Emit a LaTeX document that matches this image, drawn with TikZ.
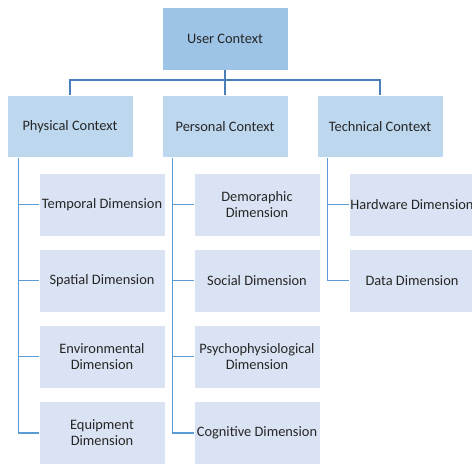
\documentclass[tikz,border=0pt]{standalone}
\usepackage{fontspec}
\setmainfont{Carlito}
\usepackage{tikz}
\definecolor{topblue}{HTML}{9DC3E6}
\definecolor{midblue}{HTML}{BDD7EE}
\definecolor{lowblue}{HTML}{DAE3F3}
\definecolor{linkdark}{HTML}{4A7EBB}
\definecolor{linklight}{HTML}{5B9BD5}
\tikzstyle{root} = [rectangle, sharp corners, draw=white, line width=0.8pt,
                    fill=topblue, align=center, text=black!85,
                    minimum width=126pt, minimum height=63pt]
\tikzstyle{context} = [rectangle, sharp corners, draw=white, line width=0.8pt,
                    fill=midblue, align=center, text=black!85,
                    minimum width=126pt, minimum height=62pt]
\tikzstyle{dimension} = [rectangle, sharp corners, draw=white, line width=0.8pt,
                    fill=lowblue, align=center, text=black!85, inner xsep=1pt,
                    minimum width=126pt, minimum height=63pt]
\tikzstyle{treelink} = [draw=linkdark, line width=1.8pt]
\tikzstyle{branch} = [draw=linklight, line width=1.6pt]

\begin{document}
\begin{tikzpicture}[x=1pt, y=-1pt, font=\fontsize{14.4}{16}\selectfont]
\useasboundingbox (0,0) rectangle (472,464);
\clip (0,0) rectangle (472,464);

%Root
\node[root] at (225,38.5) (user){User Context};

%Contexts
\node[context] at (70,126.5) (phys){Physical Context};
\node[context] at (225,126.5) (pers){Personal Context};
\node[context] at (380,126.5) (tech){Technical Context};

%Tree links
\draw[treelink] (user.south) -- (pers.north);
\draw[treelink] (phys.north) |- ++(0,-15) -| (tech.north);

%Physical dimensions
\node[dimension] at (102,204.5) (temp){Temporal Dimension};
\node[dimension] at (102,280.5) (spat){Spatial Dimension};
\node[dimension] at (102,356.5) (env){Environmental\\Dimension};
\node[dimension] at (102,433) (equip){Equipment\\Dimension};

%Personal dimensions
\node[dimension] at (257,204.5) (demo){Demoraphic\\Dimension};
\node[dimension] at (257,280.5) (soc){Social Dimension};
\node[dimension] at (257,356.5) (psy){Psychophysiological\\Dimension};
\node[dimension] at (257,433) (cog){Cognitive Dimension};

%Technical dimensions
\node[dimension] at (412,204.5) (hard){Hardware Dimension};
\node[dimension] at (412,280.5) (data){Data Dimension};

% Branches
\draw[branch] ([xshift=12pt]phys.south west) |- (equip.west);
\foreach \n in {temp,spat,env}
  \draw[branch] ([xshift=12pt]phys.south west |- \n.west) -- (\n.west);
\draw[branch] ([xshift=11pt]pers.south west) |- (cog.west);
\foreach \n in {demo,soc,psy}
  \draw[branch] ([xshift=11pt]pers.south west |- \n.west) -- (\n.west);
\draw[branch] ([xshift=11pt]tech.south west) |- (data.west);
\draw[branch] ([xshift=11pt]tech.south west |- hard.west) -- (hard.west);
\end{tikzpicture}
\end{document}
